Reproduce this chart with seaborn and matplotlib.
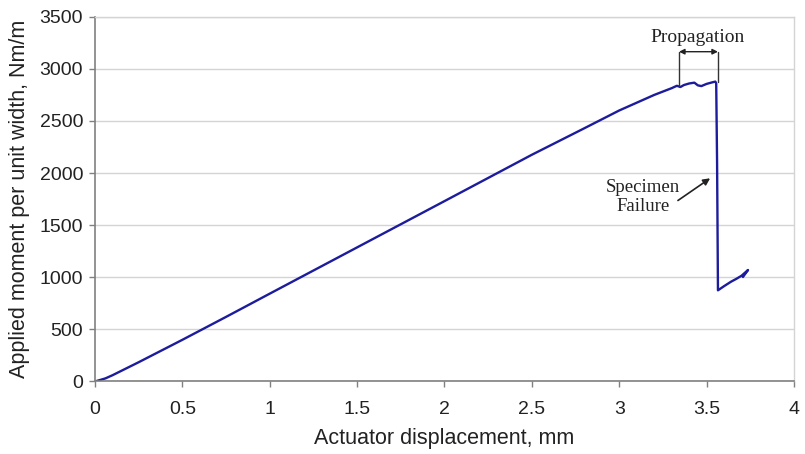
import pandas as pd
import matplotlib
matplotlib.use("Agg")
import matplotlib.pyplot as plt
import seaborn as sns

sns.set_style("white")
plt.rcParams['font.family'] = ['Liberation Sans', 'DejaVu Sans']

# Load curve (displacement in mm, moment in Nm/m)
displacement = [0.0, 0.03, 0.06, 0.1, 0.25, 0.5, 0.75, 1.0, 1.5, 2.0, 2.5, 2.8, 3.0,
                3.2, 3.3, 3.33, 3.35, 3.37, 3.40, 3.43, 3.45, 3.47, 3.50, 3.53,
                3.55, 3.555, 3.56, 3.565, 3.60, 3.64, 3.67, 3.70, 3.737, 3.708]
moment = [0, 15, 30, 60, 185, 400, 620, 843, 1287, 1731, 2176, 2430, 2601,
          2750, 2815, 2838, 2826, 2845, 2860, 2868, 2842, 2835, 2856, 2870,
          2878, 2862, 2100, 875, 915, 958, 985, 1015, 1070, 1003]

df = pd.DataFrame({"disp": displacement, "moment": moment})

fig = plt.figure(figsize=(8.05, 4.54), dpi=100)
ax = fig.add_axes([0.118, 0.1597, 0.8683, 0.8033])

sns.lineplot(data=df, x="disp", y="moment", sort=False, estimator=None,
             color="#1c1c9c", linewidth=1.7, ax=ax)

ax.set_xlim(0, 4)
ax.set_ylim(0, 3500)
ax.set_xticks([0, 0.5, 1, 1.5, 2, 2.5, 3, 3.5, 4])
ax.set_xticklabels(["0", "0.5", "1", "1.5", "2", "2.5", "3", "3.5", "4"])
ax.set_yticks(range(0, 3501, 500))
ax.grid(axis="y", color="#d4d4d4", linewidth=1)
ax.set_axisbelow(True)

for side in ["left", "bottom"]:
    ax.spines[side].set_color("#808080")
    ax.spines[side].set_linewidth(1.2)
for side in ["top", "right"]:
    ax.spines[side].set_color("#d4d4d4")
    ax.spines[side].set_linewidth(1)

ax.tick_params(axis="both", direction="out", length=4, width=1, color="#808080",
               labelsize=14, labelcolor="#222222")
ax.tick_params(axis="y", left=True, pad=4.5)
ax.tick_params(axis="x", bottom=True, pad=10)

ax.set_xlabel("Actuator displacement, mm", fontsize=15.5, color="#222222", labelpad=7)
ax.set_ylabel("Applied moment per unit width, Nm/m", fontsize=15.5, color="#222222", labelpad=7)

# Propagation bracket
serif = ["Liberation Serif", "DejaVu Serif"]
ax.plot([3.342, 3.342], [2835, 3165], color="#333333", linewidth=1)
ax.plot([3.565, 3.565], [2870, 3165], color="#333333", linewidth=1)
ax.annotate("", xy=(3.342, 3165), xytext=(3.565, 3165),
            arrowprops=dict(arrowstyle="<|-|>", color="#222222", lw=1,
                            mutation_scale=8, shrinkA=0, shrinkB=0))
ax.text(3.45, 3300, "Propagation", family=serif, fontsize=14,
        ha="center", va="center", color="#222222")

# Specimen failure note
ax.text(3.136, 1771, "Specimen\nFailure", family=serif, fontsize=13.5,
        ha="center", va="center", color="#222222", linespacing=1.2)
ax.annotate("", xy=(3.52, 1950), xytext=(3.336, 1737),
            arrowprops=dict(arrowstyle="-|>", color="#222222", lw=1.2,
                            mutation_scale=10, shrinkA=0, shrinkB=0))

fig.savefig("out.png", dpi=100)
